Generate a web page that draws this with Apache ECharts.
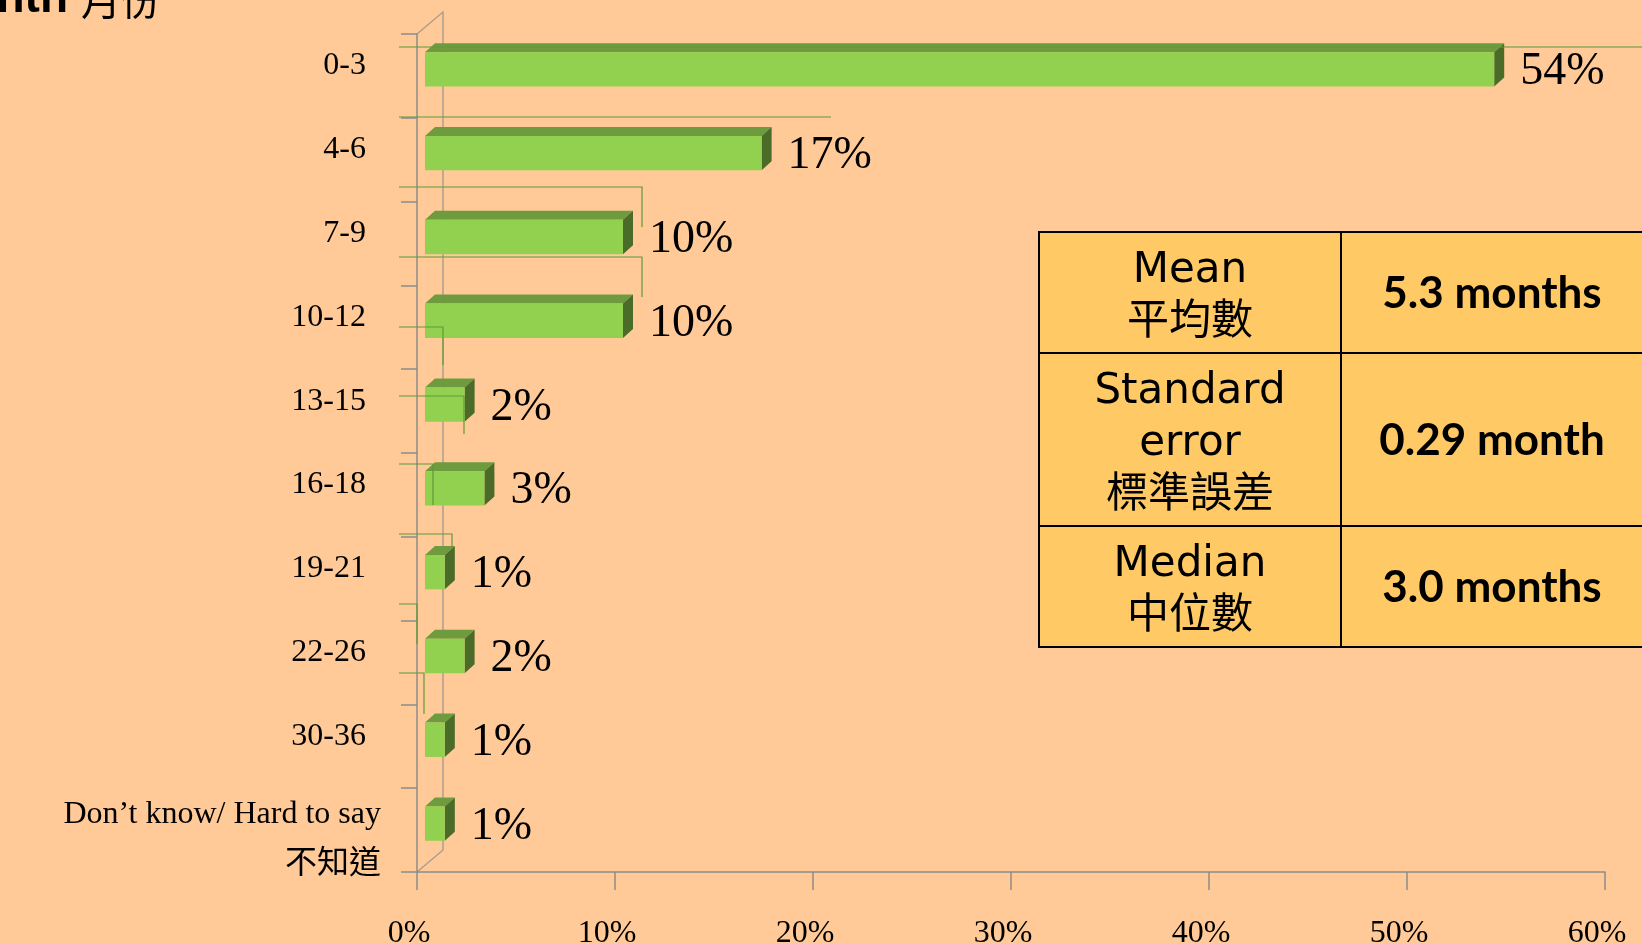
<!DOCTYPE html>
<html>
<head>
<meta charset="utf-8">
<script src="https://cdn.jsdelivr.net/npm/echarts@6/dist/echarts.min.js"></script>
<style>
  html, body { margin: 0; padding: 0; background: #FFCA98; }
  #chart { width: 1642px; height: 944px; }
</style>
</head>
<body>
<div id="chart"></div>
<script>
// categories (months) and share of respondents, in %
var categories = ['0-3', '4-6', '7-9', '10-12', '13-15', '16-18', '19-21', '22-26', '30-36', 'Don\u2019t know/ Hard to say\n不知道'];
var shares = [54, 17, 10, 10, 2, 3, 1, 2, 1, 1];
var xMin = 0, xMax = 60, xStep = 10;

// summary box
var statNames = ['Mean\n平均數', 'Standard\nerror\n標準誤差', 'Median\n中位數'];
var statValues = ['5.3 months', '0.29 month', '3.0 months'];

var titleText = 'Month';
var titleCjk = '月份';

var chart = echarts.init(document.getElementById('chart'));

var green = '#92D050', greenTop = '#6E9B3E', greenSide = '#4B6B28';
var leaderColor = '#5E9A38';

function render3dBar(params, api) {
    var v = api.value(0);
    var c = api.value(1);
    var p0 = api.coord([0, c]);
    var p1 = api.coord([v, c]);
    var band = api.size([0, 1])[1];
    var h = band * 0.41;
    var cy = p0[1] - band * 0.078;
    var x0 = p0[0] + 8, x1 = p1[0] + 8;
    var yT = cy - h / 2, yB = cy + h / 2;
    var dx = 10, dy = 9;
    return {
        type: 'group',
        children: [
            {
                type: 'polygon',
                shape: { points: [[x0, yT], [x0 + dx, yT - dy], [x1 + dx, yT - dy], [x1, yT]] },
                style: { fill: greenTop }
            },
            {
                type: 'polygon',
                shape: { points: [[x1, yT], [x1 + dx, yT - dy], [x1 + dx, yB - dy], [x1, yB]] },
                style: { fill: greenSide }
            },
            {
                type: 'rect',
                shape: { x: x0, y: yT, width: x1 - x0, height: h },
                style: { fill: green },
                textContent: {
                    style: {
                        text: v + '%',
                        fontFamily: 'Liberation Serif',
                        fontSize: 46,
                        fill: '#000'
                    }
                },
                textConfig: { position: 'right', distance: 26, offset: [0, 3] }
            }
        ]
    };
}

// odd leader lines left over from the original slide
var leaders = [
    [[399, 47], [1642, 47]],
    [[399, 117], [831, 117]],
    [[399, 187], [642, 187], [642, 227]],
    [[399, 257], [642, 257], [642, 297]],
    [[399, 327], [443, 327], [443, 365]],
    [[399, 396], [464, 396], [464, 434]],
    [[399, 464], [433, 464], [433, 505]],
    [[399, 534], [452, 534], [452, 548]],
    [[399, 604], [417, 604], [417, 644]],
    [[399, 673], [424, 673], [424, 714]]
];

var graphics = [];

// back wall of the 3d frame
graphics.push({ type: 'polyline', z: 0, silent: true,
    shape: { points: [[417, 34], [443, 12], [443, 850], [417, 872]] },
    style: { stroke: '#AE9E8E', lineWidth: 1.5, fill: null } });

leaders.forEach(function (pts) {
    graphics.push({ type: 'polyline', z: 10, silent: true,
        shape: { points: pts },
        style: { stroke: leaderColor, lineWidth: 1.2, fill: null } });
});

// summary table
var rowEdges = [232, 353, 526, 647];
for (var r = 0; r < statNames.length; r++) {
    var rowTop = rowEdges[r], rowBot = rowEdges[r + 1];
    var rowMid = (rowTop + rowBot) / 2;
    graphics.push({ type: 'rect', z: 20, shape: { x: 1039, y: rowTop, width: 302, height: rowBot - rowTop },
        style: { fill: '#FFCA66', stroke: '#000', lineWidth: 2 } });
    graphics.push({ type: 'rect', z: 20, shape: { x: 1341, y: rowTop, width: 340, height: rowBot - rowTop },
        style: { fill: '#FFCA66', stroke: '#000', lineWidth: 2 } });
    graphics.push({ type: 'text', z: 21, x: 1190, y: rowMid + 5,
        style: { text: statNames[r], align: 'center', verticalAlign: 'middle',
            fontFamily: 'DejaVu Sans, Noto Sans CJK TC', fontSize: 42, lineHeight: 52, fill: '#000' } });
    graphics.push({ type: 'text', z: 21, x: 1492, y: rowMid + 1,
        style: { text: statValues[r], align: 'center', verticalAlign: 'middle',
            fontFamily: 'Lato', fontWeight: 'bold', fontSize: 44, fill: '#000' } });
}

// title, mostly cut off at the top edge
graphics.push({ type: 'text', z: 21, x: 68, y: 22,
    style: { text: titleText, align: 'right', verticalAlign: 'bottom',
        fontFamily: 'Liberation Sans', fontWeight: 'bold', fontSize: 46, fill: '#000' } });
graphics.push({ type: 'text', z: 21, x: 81, y: 20,
    style: { text: titleCjk, align: 'left', verticalAlign: 'bottom',
        fontFamily: 'Noto Sans CJK TC', fontSize: 40, fill: '#000' } });

var lastIdx = categories.length - 1;
var yData = categories.map(function (name, i) {
    if (i === lastIdx) {
        return { value: name, textStyle: { verticalAlign: 'middle', padding: [0, 0, 0, 0] } };
    }
    return name;
});

var option = {
    backgroundColor: '#FFCA98',
    animation: false,
    grid: { left: 417, right: 37, top: 34, bottom: 72, containLabel: false, outerBoundsMode: 'none' },
    xAxis: {
        type: 'value',
        min: xMin, max: xMax, interval: xStep,
        axisLine: { show: true, lineStyle: { color: '#8C8C8C', width: 1.5 } },
        axisTick: { show: true, length: 18, lineStyle: { color: '#8C8C8C', width: 1.5 } },
        splitLine: { show: false },
        axisLabel: {
            formatter: '{value}%',
            margin: 46,
            padding: [0, 16, 0, 0],
            fontFamily: 'Liberation Serif',
            fontSize: 32,
            color: '#000'
        }
    },
    yAxis: {
        type: 'category',
        inverse: true,
        data: yData,
        axisLine: { show: true, lineStyle: { color: '#8C8C8C', width: 1.5 } },
        axisTick: { show: true, length: 16, lineStyle: { color: '#8C8C8C', width: 1.5 } },
        axisLabel: {
            margin: 36,
            padding: [0, 15, 0, 0],
            verticalAlign: 'bottom',
            lineHeight: 20,
            fontFamily: 'Liberation Serif, Noto Sans CJK TC',
            fontSize: 32,
            color: '#000',
            formatter: function (value, idx) {
                if (idx === lastIdx) {
                    return '{s| }\n{d|' + value.split('\n').join('}\n{d|') + '}';
                }
                return value;
            },
            rich: {
                s: { lineHeight: 19, fontSize: 10 },
                d: { lineHeight: 50, fontSize: 32, fontFamily: 'Liberation Serif, Noto Sans CJK TC', color: '#000' }
            }
        }
    },
    series: [{
        type: 'custom',
        renderItem: render3dBar,
        encode: { x: 0, y: 1 },
        data: shares.map(function (v, i) { return [v, i]; }),
        z: 5
    }],
    graphic: graphics
};

chart.setOption(option);
</script>
</body>
</html>
